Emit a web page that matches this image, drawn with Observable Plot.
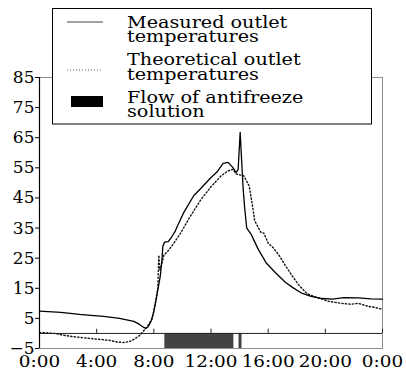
<!DOCTYPE html>
<html>
<head>
<meta charset="utf-8">
<script src="https://cdn.jsdelivr.net/npm/d3@7"></script>
<script src="https://cdn.jsdelivr.net/npm/@observablehq/plot@0.6"></script>
<style>
  html, body { margin: 0; padding: 0; background: #fff; }
  #chart { width: 406px; height: 378px; }
</style>
</head>
<body>
<div id="chart"></div>
<script>
// ---- data ----
const xTicks = [0, 4, 8, 12, 16, 20, 24];
const xTickLabels = ["0:00", "4:00", "8:00", "12:00", "16:00", "20:00", "0:00"];
const yTicks = [-5, 5, 15, 25, 35, 45, 55, 65, 75, 85];

const measuredHours = [0, 1.5, 2.8, 3.6, 4.5, 5.6, 6.6, 7.0, 7.3, 7.45, 7.6, 7.8, 8.0, 8.15, 8.3, 8.45, 8.56, 8.63, 8.75, 9.0, 9.2, 9.5, 9.7, 10.1, 10.8, 11.3, 12.0, 12.4, 12.85, 13.2, 13.55, 13.75, 13.9, 14.04, 14.17, 14.25, 14.35, 14.5, 14.8, 15.0, 15.3, 15.85, 16.55, 17.2, 17.7, 18.3, 19.0, 19.8, 20.5, 21.3, 22.3, 23.2, 24.0];
const measuredTemps = [7.4, 7.0, 6.3, 6.0, 5.7, 5.0, 4.0, 3.0, 2.0, 1.7, 2.2, 4.0, 7.3, 11, 15, 19, 24, 29, 30.3, 30.5, 31.7, 34, 36.2, 40.2, 45.8, 48.2, 51.8, 53.5, 56.5, 56.8, 55, 53.4, 54.5, 66.8, 55, 48, 42, 35, 33, 31, 28, 23.5, 20, 17, 15.3, 13.5, 12.3, 11.6, 11.4, 11.9, 11.8, 11.5, 11.4];

const theoreticalHours = [0, 1.1, 1.8, 2.6, 3.8, 4.9, 5.5, 5.9, 6.3, 6.6, 7.0, 7.5, 7.9, 8.14, 8.28, 8.35, 8.42, 8.55, 8.7, 9.05, 9.4, 9.9, 10.5, 11.3, 12.0, 12.7, 13.2, 13.55, 13.75, 14.3, 14.67, 14.85, 14.95, 15.05, 15.5, 15.7, 16.0, 16.35, 16.8, 17.1, 17.6, 18.1, 18.7, 19.2, 20.2, 21.1, 21.8, 22.3, 23.0, 23.4, 24.0];
const theoreticalTemps = [0.3, 0, -0.7, -1.2, -1.8, -2.3, -2.9, -3.0, -2.7, -2.0, -0.7, 2, 5, 11, 15, 26, 21, 23, 26, 27.7, 30, 33.5, 38.5, 44.5, 48.7, 52.3, 54, 54.5, 53, 52.3, 49, 44, 41, 37.5, 33.5, 33.3, 30, 28.5, 25.7, 23.3, 19.7, 16.3, 13.3, 12.3, 10.7, 10, 9.7, 10, 9, 8.7, 8];

const flowStarts = [8.77, 13.96];
const flowEnds = [13.6, 14.17];

const legendLabels = [
  ["Measured outlet", "temperatures"],
  ["Theoretical outlet", "temperatures"],
  ["Flow of antifreeze", "solution"]
];

// ---- build tables ----
const measured = measuredHours.map((h, i) => ({h, t: measuredTemps[i]}));
const theoretical = theoreticalHours.map((h, i) => ({h, t: theoreticalTemps[i]}));
const flow = flowStarts.map((s, i) => ({s, e: flowEnds[i]}));
const yMin = yTicks[0], yMax = yTicks[yTicks.length - 1];
const innerTickLen = 1.4; // data units (~4px)

const font = "'DejaVu Serif', serif";

const plot = Plot.plot({
  width: 406,
  height: 378,
  marginLeft: 39,
  marginRight: 24,
  marginTop: 77,
  marginBottom: 30,
  style: {fontFamily: font, fontSize: "17px", color: "black", background: "white"},
  x: {domain: [0, 24]},
  y: {domain: [yMin, yMax]},
  marks: [
    Plot.rect(flow, {x1: "s", x2: "e", y1: yMin, y2: 0, fill: "#434343"}),
    Plot.frame({stroke: "#8c8c8c", strokeWidth: 1}),
    Plot.ruleY([0], {stroke: "#222", strokeWidth: 1}),
    Plot.ruleX(xTicks, {x: d => d, y1: 0, y2: innerTickLen, stroke: "#222"}),
    Plot.ruleX([0], {stroke: "black", strokeWidth: 1.2}),
    Plot.line(theoretical, {x: "h", y: "t", stroke: "#111", strokeWidth: 1.4, strokeDasharray: "1.3,2.2"}),
    Plot.line(measured, {x: "h", y: "t", stroke: "black", strokeWidth: 1.3}),
    Plot.axisY({ticks: yTicks, tickSize: 4, tickPadding: 1, fontSize: 17, label: null, stroke: "black"}),
    Plot.axisX({ticks: xTicks, tickSize: 0, tickPadding: 7, fontSize: 16, label: null,
                tickFormat: d => xTickLabels[xTicks.indexOf(d)]})
  ]
});

document.getElementById("chart").appendChild(plot);

// widen x tick labels horizontally like the reference typeface
d3.select(plot).selectAll("g[aria-label='x-axis tick label'] text").each(function() {
  const tr = this.getAttribute("transform") || "";
  this.setAttribute("transform", tr + " scale(1.15,1)");
});

// ---- legend drawn inside the svg ----
const svg = d3.select(plot);
const lg = svg.append("g").attr("class", "legend").attr("text-anchor", "start");
lg.append("rect").attr("x", 52.5).attr("y", 8.5).attr("width", 319).attr("height", 115.5)
  .attr("fill", "white").attr("stroke", "black").attr("stroke-width", 1);
lg.append("line").attr("x1", 67).attr("x2", 103).attr("y1", 22).attr("y2", 22)
  .attr("stroke", "#444").attr("stroke-width", 1.2);
lg.append("line").attr("x1", 67).attr("x2", 103).attr("y1", 70).attr("y2", 70)
  .attr("stroke", "#666").attr("stroke-width", 1).attr("stroke-dasharray", "1,2");
lg.append("rect").attr("x", 71).attr("y", 96).attr("width", 32).attr("height", 11).attr("fill", "black");

const baselines = [[27.5, 41.5], [65, 79.5], [103, 117]];
legendLabels.forEach((lines, i) => {
  lines.forEach((txt, j) => {
    lg.append("text")
      .attr("transform", `translate(127,${baselines[i][j]}) scale(1.2,1)`)
      .attr("text-anchor", "start")
      .attr("font-family", font)
      .attr("font-size", 16)
      .attr("fill", "black")
      .text(txt);
  });
});
</script>
</body>
</html>
